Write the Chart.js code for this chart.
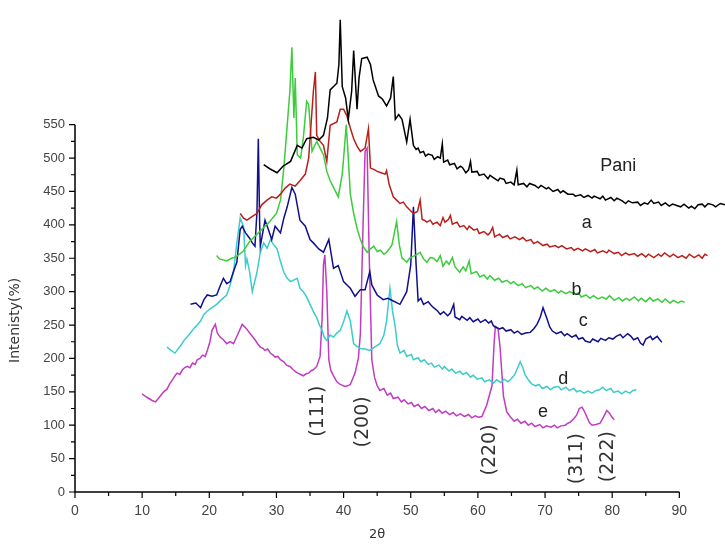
<!DOCTYPE html>
<html>
<head>
<meta charset="utf-8">
<script src="https://cdn.jsdelivr.net/npm/chart.js@4/dist/chart.umd.min.js"></script>
<style>
  html, body { margin: 0; padding: 0; background: #fff; }
  #chart { display: block; }
</style>
</head>
<body>
<canvas id="chart" width="725" height="548"></canvas>
<script>
// XRD patterns, [2theta, intensity]
const pani = [[28.1,490],[29.0,484],[30.1,478],[31.0,488],[32.1,495],[33.1,519],[33.8,515],[34.5,529],[35.5,531],[36.3,527],[37.0,534],[37.6,560],[38.0,602],[39.0,612],[39.3,640],[39.5,707],[39.8,607],[40.3,590],[40.7,558],[41.2,600],[41.5,661],[42.0,573],[42.3,620],[42.7,649],[43.5,651],[44.0,640],[44.4,617],[45.2,593],[45.8,588],[46.4,578],[47.0,590],[47.4,622],[47.7,558],[48.2,565],[48.7,558],[49.4,524],[49.9,558],[50.4,519],[50.8,513],[51.1,515],[51.4,508],[51.9,510],[52.2,503],[52.6,506],[53.2,504],[53.5,498],[54.0,502],[54.4,500],[54.7,521],[54.9,494],[55.5,497],[55.8,490],[56.5,492],[56.9,484],[57.4,488],[57.7,486],[58.2,478],[58.6,482],[58.9,495],[59.1,479],[59.9,480],[60.2,474],[60.9,476],[61.5,469],[61.8,474],[62.4,470],[63.0,466],[63.3,470],[63.9,468],[64.2,462],[64.9,464],[65.4,460],[65.8,482],[66.0,460],[66.8,462],[67.3,457],[67.7,462],[68.5,459],[69.0,455],[69.4,459],[70.2,454],[70.5,456],[71.2,450],[71.9,453],[72.3,448],[72.7,451],[73.4,446],[74.2,446],[74.5,443],[75.3,445],[75.8,441],[76.4,444],[77.0,440],[77.3,443],[78.2,439],[78.6,443],[79.0,437],[79.8,441],[80.3,436],[80.7,440],[81.5,436],[82.0,432],[82.4,436],[83.0,433],[83.8,434],[84.2,429],[84.8,433],[85.3,431],[85.8,437],[86.2,432],[86.9,434],[87.3,429],[87.9,433],[88.5,428],[89.0,431],[89.6,429],[90.2,427],[90.7,431],[91.4,425],[91.8,428],[92.3,424],[92.8,430],[93.4,431],[93.8,427],[94.3,432],[95.0,430],[95.4,427],[96.1,432],[96.8,430]];

const sampleA = [[24.6,417],[25.1,410],[25.6,407],[26.3,412],[27.1,417],[27.8,430],[28.6,437],[29.3,442],[30.0,440],[30.6,446],[31.3,455],[32.0,461],[32.8,458],[33.5,466],[34.3,476],[34.8,500],[35.0,529],[35.5,600],[35.8,629],[36.0,534],[36.5,525],[37.0,519],[37.5,495],[38.0,549],[39.0,554],[39.5,573],[40.0,573],[40.5,563],[41.0,545],[41.5,529],[42.0,518],[42.5,510],[43.2,515],[43.7,544],[44.0,485],[44.5,483],[45.0,480],[45.6,478],[46.2,476],[46.4,481],[46.8,460],[47.4,442],[47.9,437],[48.4,432],[48.9,434],[49.4,427],[49.9,422],[50.4,417],[51.0,420],[51.4,437],[51.7,408],[52.0,407],[52.4,404],[52.9,407],[53.3,401],[53.9,404],[54.4,399],[54.8,411],[55.1,404],[55.6,408],[55.9,414],[56.2,401],[56.9,404],[57.3,397],[57.9,399],[58.4,393],[58.7,398],[59.4,392],[59.9,394],[60.2,387],[60.9,390],[61.5,385],[61.8,388],[62.2,396],[62.5,382],[63.2,386],[63.7,381],[64.4,384],[64.8,379],[65.5,382],[66.2,378],[66.7,381],[67.2,376],[67.9,378],[68.3,372],[68.9,375],[69.7,369],[70.3,371],[70.7,367],[71.5,369],[72.0,366],[72.5,369],[73.2,364],[73.9,366],[74.3,362],[74.9,365],[75.6,361],[76.0,364],[76.8,360],[77.4,363],[77.8,358],[78.6,361],[79.2,358],[79.5,362],[80.3,357],[80.9,359],[81.4,354],[82.0,358],[82.5,355],[83.3,357],[83.8,353],[84.4,357],[85.0,352],[85.4,356],[86.2,351],[86.9,356],[87.3,353],[87.8,358],[88.6,352],[89.1,356],[89.8,351],[90.4,354],[91.0,350],[91.5,356],[92.2,351],[92.9,355],[93.4,350],[93.8,356],[94.2,354]];

const sampleB = [[21.1,354],[21.5,349],[22.6,346],[23.3,350],[24.0,352],[25.0,360],[26.0,375],[27.0,385],[28.0,395],[29.0,405],[30.0,417],[30.6,437],[31.1,485],[31.6,549],[32.0,600],[32.3,666],[32.6,560],[32.8,620],[33.1,505],[33.6,500],[34.0,530],[34.5,585],[34.8,580],[35.3,510],[36.0,525],[36.5,515],[37.0,505],[37.5,480],[38.0,466],[38.5,456],[39.2,442],[39.8,476],[40.0,500],[40.4,550],[40.7,500],[41.0,446],[41.5,417],[42.0,395],[42.5,378],[43.0,366],[43.5,359],[44.0,364],[44.5,368],[45.0,360],[45.5,362],[46.0,356],[46.4,359],[46.8,364],[47.2,370],[47.9,405],[48.3,370],[48.7,350],[49.0,348],[49.4,344],[49.8,350],[50.2,352],[50.8,355],[51.4,359],[51.9,349],[52.4,344],[52.9,351],[53.4,350],[53.9,345],[54.4,354],[54.8,338],[55.3,346],[55.7,341],[56.2,351],[56.6,337],[57.3,329],[57.8,337],[58.2,331],[58.7,346],[59.0,327],[59.8,330],[60.3,322],[60.9,325],[61.4,319],[61.8,324],[62.5,317],[63.1,320],[63.6,314],[64.3,317],[64.9,312],[65.3,315],[66.0,309],[66.6,312],[67.1,306],[67.9,309],[68.4,304],[68.9,307],[69.6,301],[70.1,305],[70.8,300],[71.4,303],[72.0,298],[72.4,301],[73.1,297],[73.7,300],[74.5,296],[75.0,298],[75.4,292],[76.1,295],[76.7,290],[77.2,294],[77.9,289],[78.5,292],[79.1,289],[79.6,294],[80.3,287],[81.0,291],[81.5,286],[82.1,290],[82.6,287],[83.3,292],[83.9,286],[84.3,290],[85.0,285],[85.6,291],[86.1,286],[86.8,289],[87.4,284],[87.9,289],[88.6,283],[89.1,287],[89.8,283],[90.3,286],[90.8,284]];

const sampleC = [[17.2,281],[18.0,283],[18.7,276],[19.2,288],[19.7,295],[20.4,293],[21.1,295],[21.6,308],[22.1,320],[22.6,312],[23.1,315],[23.6,330],[24.1,344],[24.6,393],[24.9,398],[25.4,388],[26.0,380],[26.4,373],[26.8,368],[27.1,420],[27.3,529],[27.5,400],[27.6,368],[28.3,407],[28.8,393],[29.3,378],[29.8,398],[30.6,388],[31.1,410],[31.6,427],[32.3,456],[32.8,446],[33.5,407],[34.3,398],[35.0,378],[35.5,373],[36.3,364],[37.0,359],[37.8,378],[38.5,335],[39.2,339],[40.0,315],[40.5,310],[41.0,305],[41.7,293],[42.5,303],[43.2,303],[43.9,330],[44.2,310],[45.0,295],[45.9,288],[46.6,290],[47.4,286],[48.4,281],[49.4,300],[50.0,340],[50.4,427],[50.8,340],[51.1,286],[51.5,290],[51.9,281],[52.6,285],[53.0,280],[53.4,276],[54.0,271],[54.4,266],[54.9,270],[55.5,264],[55.9,268],[56.4,281],[56.6,262],[57.3,258],[57.6,263],[58.4,257],[58.8,261],[59.3,255],[60.0,259],[60.4,254],[61.1,258],[61.6,253],[62.0,256],[62.3,249],[62.6,247],[63.2,244],[63.7,246],[64.2,241],[64.9,243],[65.4,238],[65.9,241],[66.5,236],[67.1,238],[67.8,239],[68.3,244],[68.8,251],[69.3,262],[69.7,276],[70.2,262],[70.7,247],[71.1,241],[71.7,237],[72.4,240],[72.9,234],[73.3,237],[74.0,232],[74.6,235],[75.0,229],[75.6,231],[76.0,226],[76.7,224],[77.1,229],[77.9,225],[78.3,230],[79.0,227],[79.5,231],[80.1,229],[80.6,233],[81.2,236],[81.6,231],[82.3,237],[82.8,233],[83.2,228],[83.8,231],[84.2,223],[84.6,220],[85.0,229],[85.7,233],[86.0,228],[86.7,233],[87.0,229],[87.4,224]];

const sampleD = [[13.7,217],[14.3,212],[14.9,208],[15.4,215],[15.8,220],[16.3,228],[16.7,232],[17.2,238],[17.7,245],[18.2,250],[18.7,256],[19.2,266],[19.7,271],[20.4,276],[21.1,281],[21.8,288],[22.6,295],[23.1,310],[23.6,329],[24.1,373],[24.6,410],[25.1,398],[25.4,339],[25.6,349],[26.0,330],[26.4,300],[27.1,329],[27.6,359],[28.1,373],[28.6,365],[29.1,378],[29.6,370],[30.1,364],[30.6,345],[31.1,329],[31.6,320],[32.1,315],[33.1,320],[33.5,305],[34.0,300],[34.5,292],[35.0,281],[35.5,270],[36.0,261],[36.4,250],[36.8,242],[37.1,232],[37.5,227],[38.0,235],[38.5,232],[39.0,238],[39.5,242],[40.0,255],[40.5,271],[41.0,256],[41.5,222],[42.0,218],[42.5,215],[43.2,214],[43.9,212],[44.6,217],[45.4,222],[46.0,235],[46.4,256],[46.9,305],[47.3,270],[47.7,247],[48.0,220],[48.4,208],[49.0,212],[49.4,203],[50.1,206],[50.4,198],[51.1,201],[51.5,195],[52.0,198],[52.6,191],[53.1,193],[53.5,187],[54.2,190],[54.7,184],[55.0,188],[55.7,181],[56.1,184],[56.7,178],[57.3,181],[57.8,176],[58.3,179],[58.9,172],[59.3,175],[59.9,169],[60.6,171],[61.0,165],[61.7,168],[62.3,163],[62.8,168],[63.4,164],[63.9,169],[64.5,165],[65.0,170],[65.5,176],[66.0,188],[66.3,195],[66.7,186],[67.0,176],[67.5,168],[68.0,162],[68.6,159],[69.1,161],[69.6,155],[70.3,158],[70.8,153],[71.3,157],[72.0,158],[72.4,153],[73.1,157],[73.6,152],[74.3,155],[74.7,150],[75.2,152],[75.8,148],[76.4,151],[77.0,148],[77.6,152],[78.1,153],[78.6,157],[79.1,152],[79.8,155],[80.2,149],[80.9,151],[81.4,147],[82.0,151],[82.6,148],[83.1,152],[83.6,153]];

const sampleE = [[10.0,147],[10.5,143],[11.0,140],[11.5,137],[12.0,135],[12.4,140],[12.8,145],[13.2,150],[13.7,154],[14.1,162],[14.5,168],[14.9,174],[15.2,178],[15.6,176],[16.0,183],[16.3,186],[16.7,188],[17.1,186],[17.5,193],[17.9,191],[18.2,198],[18.6,200],[19.0,205],[19.4,203],[19.7,212],[20.1,225],[20.4,242],[20.9,251],[21.2,238],[21.6,232],[22.1,228],[22.6,222],[23.1,225],[23.6,222],[24.2,235],[24.9,251],[25.5,245],[26.1,237],[26.8,228],[27.2,222],[27.6,217],[28.0,215],[28.3,212],[28.7,214],[29.1,208],[29.5,205],[29.8,202],[30.2,203],[30.6,198],[31.1,195],[31.5,190],[32.0,188],[32.5,183],[32.9,180],[33.2,178],[33.6,176],[34.0,174],[34.4,177],[34.8,178],[35.2,182],[35.5,183],[36.0,188],[36.5,203],[36.8,260],[37.0,340],[37.2,355],[37.5,300],[37.8,198],[38.1,182],[38.5,174],[39.0,165],[39.5,161],[40.2,158],[40.6,159],[41.0,161],[41.7,178],[42.2,200],[42.5,237],[42.9,400],[43.2,510],[43.5,515],[43.8,360],[44.2,198],[44.6,172],[45.0,159],[45.4,152],[46.0,155],[46.5,145],[47.0,148],[47.4,140],[48.1,142],[48.6,135],[49.0,138],[49.6,132],[50.1,134],[50.5,128],[51.1,131],[51.6,125],[52.1,128],[52.7,122],[53.3,125],[53.7,119],[54.2,123],[54.7,118],[55.2,121],[55.8,116],[56.3,119],[56.8,114],[57.4,117],[58.0,113],[58.6,116],[59.1,111],[59.6,114],[60.1,112],[60.6,113],[61.3,130],[62.1,159],[62.4,220],[62.6,248],[63.0,245],[63.3,217],[63.8,144],[64.3,120],[64.8,113],[65.4,106],[65.9,109],[66.4,103],[67.0,106],[67.5,100],[68.0,103],[68.5,98],[69.2,101],[69.7,96],[70.2,99],[70.9,97],[71.4,100],[71.8,96],[72.4,99],[73.0,100],[73.4,103],[73.8,105],[74.3,110],[74.7,115],[75.1,125],[75.5,127],[75.8,122],[76.2,113],[76.6,104],[77.0,100],[77.6,101],[78.2,103],[78.7,112],[79.2,122],[79.6,118],[79.9,113],[80.3,108]];

const xTicks = [0, 10, 20, 30, 40, 50, 60, 70, 80, 90];
const yTicks = [0, 50, 100, 150, 200, 250, 300, 350, 400, 450, 500, 550];

// text placed in data coordinates
const curveLabels = [['Pani', 80.9, 488], ['a', 76.2, 402], ['b', 74.7, 303], ['c', 75.7, 256], ['d', 72.7, 169], ['e', 69.7, 120]];
const peakLabels = [['(111)', 36.0, 121], ['(200)', 42.8, 105], ['(220)', 61.7, 63], ['(311)', 74.6, 50], ['(222)', 79.2, 53]];

const series = [
  { label: 'Pani', rows: pani, color: '#000000' },
  { label: 'a', rows: sampleA, color: '#b8201c' },
  { label: 'b', rows: sampleB, color: '#3ccc3c' },
  { label: 'c', rows: sampleC, color: '#10108a' },
  { label: 'd', rows: sampleD, color: '#3ccccc' },
  { label: 'e', rows: sampleE, color: '#c03cc0' }
];

const axesPlugin = {
  id: 'originAxes',
  beforeDatasetsDraw(chart) {
    const { ctx } = chart;
    const xs = chart.scales.x, ys = chart.scales.y;
    const x0 = xs.getPixelForValue(0), y0 = ys.getPixelForValue(0);
    const xEnd = xs.getPixelForValue(xTicks[xTicks.length - 1]);
    const yEnd = ys.getPixelForValue(yTicks[yTicks.length - 1]);
    ctx.save();
    ctx.strokeStyle = '#000';
    ctx.lineWidth = 1.5;
    ctx.beginPath();
    ctx.moveTo(x0, yEnd); ctx.lineTo(x0, y0); ctx.lineTo(xEnd, y0);
    ctx.stroke();
    ctx.lineWidth = 1.2;
    ctx.beginPath();
    for (let v = 0; v <= 90; v += 5) {
      const p = xs.getPixelForValue(v);
      ctx.moveTo(p, y0); ctx.lineTo(p, y0 + (v % 10 === 0 ? 6 : 4));
    }
    for (let v = 0; v <= 550; v += 25) {
      const p = ys.getPixelForValue(v);
      ctx.moveTo(x0, p); ctx.lineTo(x0 - (v % 50 === 0 ? 6 : 4), p);
    }
    ctx.stroke();
    ctx.restore();
  },
  afterDatasetsDraw(chart) {
    const { ctx } = chart;
    const xs = chart.scales.x, ys = chart.scales.y;
    ctx.save();
    ctx.fillStyle = '#222';
    ctx.textAlign = 'center';
    ctx.textBaseline = 'middle';
    ctx.font = '18px "Liberation Sans", Arial, sans-serif';
    curveLabels.forEach(([t, x, y]) => ctx.fillText(t, xs.getPixelForValue(x), ys.getPixelForValue(y)));
    ctx.fillStyle = '#333';
    ctx.font = '19px "DejaVu Sans", sans-serif';
    peakLabels.forEach(([t, x, y]) => {
      ctx.save();
      ctx.translate(xs.getPixelForValue(x), ys.getPixelForValue(y));
      ctx.rotate(-Math.PI / 2);
      ctx.fillText(t, 0, 1);
      ctx.restore();
    });
    // axis titles
    ctx.font = '13px "DejaVu Sans", sans-serif';
    ctx.fillText('2θ', xs.getPixelForValue(45), chart.chartArea.bottom + 43);
    ctx.save();
    ctx.translate(15, ys.getPixelForValue(257));
    ctx.rotate(-Math.PI / 2);
    ctx.font = '14px "DejaVu Sans", sans-serif';
    ctx.fillText('Intenisty(%)', 0, 0);
    ctx.restore();
    ctx.restore();
  }
};

new Chart(document.getElementById('chart'), {
  type: 'line',
  data: {
    datasets: series.map(s => ({
      label: s.label,
      data: s.rows.map(([x, y]) => ({ x, y })),
      borderColor: s.color,
      borderWidth: 1.5,
      pointRadius: 0,
      tension: 0,
      fill: false
    }))
  },
  options: {
    responsive: false,
    animation: false,
    devicePixelRatio: 1,
    layout: { padding: 0 },
    plugins: { legend: { display: false }, tooltip: { enabled: false } },
    scales: {
      x: {
        type: 'linear',
        min: 0,
        max: 96.8,
        afterFit(s) { s.height = 56; },
        afterBuildTicks(s) { s.ticks = xTicks.map(v => ({ value: v })); },
        grid: { display: false, drawTicks: true, tickLength: 6 },
        border: { display: false },
        ticks: { color: '#444', padding: 5, maxRotation: 0, font: { family: '"Liberation Sans", Arial', size: 14 } }
      },
      y: {
        type: 'linear',
        min: 0,
        max: 719,
        afterFit(s) { s.width = 75; },
        afterBuildTicks(s) { s.ticks = yTicks.map(v => ({ value: v })); },
        grid: { display: false, drawTicks: true, tickLength: 6 },
        border: { display: false },
        ticks: { color: '#444', padding: 4, font: { family: '"Liberation Sans", Arial', size: 13 } }
      }
    }
  },
  plugins: [axesPlugin]
});
</script>
</body>
</html>
